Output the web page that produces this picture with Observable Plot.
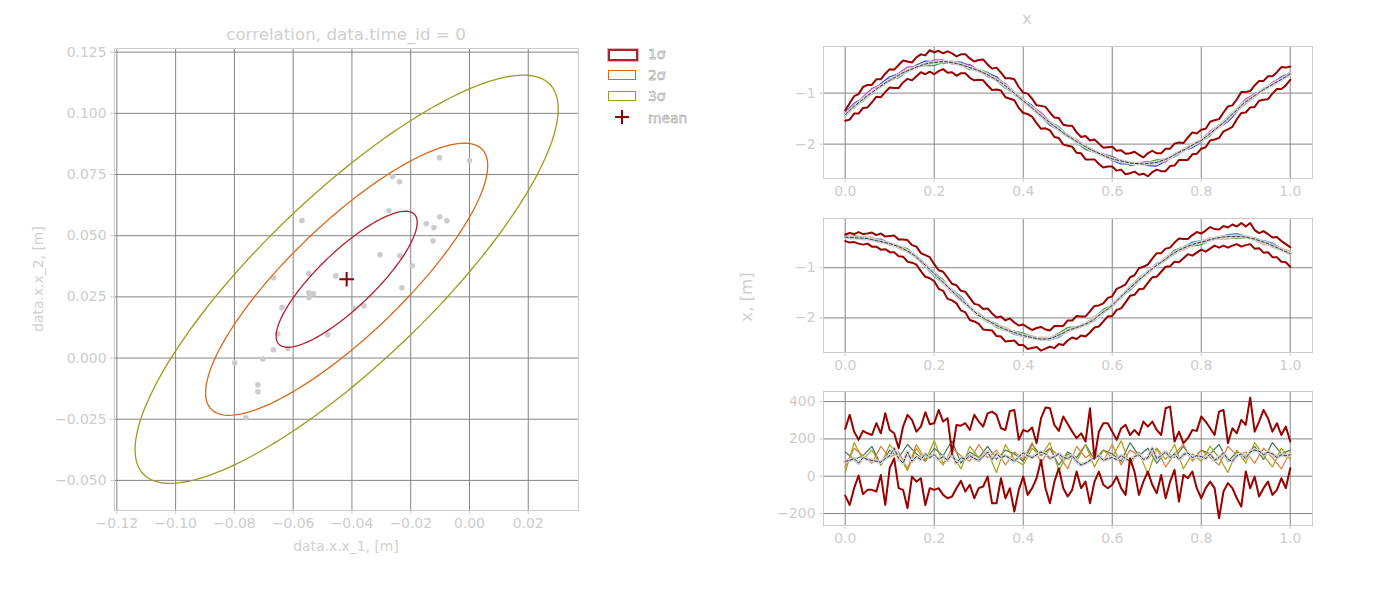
<!DOCTYPE html>
<html><head><meta charset="utf-8">
<script src="https://cdn.jsdelivr.net/npm/d3@7"></script>
<script src="https://cdn.jsdelivr.net/npm/@observablehq/plot@0.6"></script>
<style>
body{margin:0;background:#fff;font-family:"DejaVu Sans",sans-serif;}
#root{position:relative;width:1396px;height:594px;overflow:hidden;background:#fff;}
.lbl{position:absolute;color:#cfcfcf;white-space:nowrap;transform:translate(-50%,-50%);font-family:"DejaVu Sans",sans-serif;}
.leg{position:absolute;white-space:nowrap;font-family:"DejaVu Sans",sans-serif;font-size:13.9px;color:#f4f4f4;-webkit-text-stroke:0.45px #8a8a8a;transform:translateY(-50%);}
.box{position:absolute;width:26px;height:8px;background:#fff;}
</style></head><body><div id="root"></div>
<script>
// ---------- left: correlation scatter ----------
const scatterX = [0.0000,-0.0102,-0.0262,-0.0238,-0.0570,-0.0274,-0.0147,-0.0121,-0.0101,-0.0077,-0.0124,-0.0305,-0.0237,-0.0195,-0.0667,-0.0547,-0.0455,-0.0230,-0.0547,-0.0531,-0.0547,-0.0638,-0.0395,-0.0359,-0.0652,-0.0482,-0.0667,-0.0618,-0.0703,-0.0799,-0.0720,-0.0720,-0.0761];
const scatterY = [0.0807,0.0819,0.0742,0.0720,0.0562,0.0602,0.0549,0.0533,0.0577,0.0561,0.0479,0.0422,0.0418,0.0377,0.0328,0.0345,0.0336,0.0287,0.0267,0.0263,0.0247,0.0206,0.0202,0.0214,0.0099,0.0095,0.0034,0.0039,-0.0004,-0.0019,-0.0109,-0.0138,-0.0244];
const meanXY = [-0.0418, 0.0322];
const covXX = 0.000576, covYY = 0.000773, covXY = 0.000557;
const sigmaLevels = [1, 2, 3];
const sigmaLabels = ["1σ", "2σ", "3σ"];
const sigmaColors = ["#b0202e", "#d8691c", "#9c9c1c"];
const leftXTicks = [-0.12,-0.10,-0.08,-0.06,-0.04,-0.02,0.00,0.02];
const leftYTicks = [-0.050,-0.025,0.000,0.025,0.050,0.075,0.100,0.125];

// ---------- right: time series ----------
const tLabelTicks = [0,0.2,0.4,0.6,0.8,1.0];
const p1Mean = [-1.42,-1.34,-1.26,-1.19,-1.12,-1.05,-0.99,-0.92,-0.86,-0.80,
-0.75,-0.70,-0.65,-0.60,-0.56,-0.53,-0.49,-0.46,-0.43,-0.41,
-0.40,-0.39,-0.38,-0.39,-0.40,-0.42,-0.44,-0.47,-0.50,-0.53,
-0.56,-0.60,-0.64,-0.69,-0.74,-0.79,-0.86,-0.93,-1.00,-1.08,
-1.15,-1.22,-1.29,-1.37,-1.44,-1.51,-1.58,-1.65,-1.71,-1.78,
-1.84,-1.89,-1.95,-2.00,-2.05,-2.10,-2.14,-2.18,-2.22,-2.26,
-2.29,-2.31,-2.33,-2.35,-2.37,-2.38,-2.38,-2.39,-2.38,-2.37,
-2.36,-2.33,-2.30,-2.26,-2.21,-2.16,-2.12,-2.07,-2.02,-1.97,
-1.93,-1.86,-1.79,-1.72,-1.65,-1.58,-1.50,-1.41,-1.33,-1.24,
-1.17,-1.11,-1.05,-0.99,-0.93,-0.88,-0.83,-0.78,-0.73,-0.68,
-0.62];
const p1Up = [0.08,0.14,0.20,0.17,0.24,0.21,0.15,0.19,0.13,0.18,
0.22,0.16,0.20,0.24,0.18,0.13,0.19,0.22,0.17,0.25,
0.20,0.22,0.16,0.21,0.18,0.14,0.20,0.23,0.18,0.15,
0.21,0.26,0.20,0.17,0.24,0.19,0.15,0.22,0.27,0.20,
0.16,0.21,0.18,0.13,0.19,0.24,0.20,0.17,0.22,0.16,
0.20,0.25,0.18,0.14,0.21,0.17,0.23,0.19,0.15,0.20,
0.24,0.18,0.21,0.16,0.19,0.23,0.17,0.13,0.20,0.24,
0.18,0.15,0.21,0.17,0.22,0.19,0.14,0.20,0.25,0.18,
0.21,0.16,0.23,0.19,0.14,0.20,0.24,0.17,0.21,0.26,
0.19,0.15,0.20,0.23,0.17,0.21,0.16,0.19,0.24,0.18,
0.14];
const p1Dn = [0.12,0.18,0.14,0.21,0.17,0.23,0.19,0.15,0.22,0.18,
0.14,0.20,0.25,0.19,0.16,0.22,0.18,0.13,0.20,0.17,
0.23,0.18,0.15,0.21,0.19,0.24,0.17,0.14,0.20,0.22,
0.18,0.15,0.21,0.25,0.19,0.16,0.22,0.18,0.14,0.21,
0.24,0.19,0.17,0.22,0.26,0.18,0.15,0.21,0.17,0.23,
0.19,0.16,0.22,0.18,0.25,0.20,0.16,0.21,0.24,0.18,
0.15,0.21,0.17,0.24,0.20,0.16,0.22,0.19,0.25,0.18,
0.14,0.20,0.23,0.17,0.21,0.15,0.19,0.24,0.18,0.22,
0.16,0.20,0.14,0.19,0.23,0.17,0.21,0.25,0.18,0.15,
0.21,0.17,0.22,0.16,0.20,0.24,0.18,0.14,0.19,0.17,
0.12];
const p1SampleA = [0.04,0.06,0.02,-0.03,0.05,0.07,0.03,-0.02,0.04,0.06,0.02,-0.04,0.01,0.05,0.03,-0.02,0.04,0.06,0.01,-0.03,0.02,0.05,-0.01,-0.05,-0.02,0.03,0.01,-0.04,-0.02,0.02,-0.03,-0.06,-0.02,0.01,-0.04,-0.07,-0.03,0.02,-0.01,-0.05,-0.03,0.01,-0.02,-0.06,-0.04,0.02,0.04,-0.01,0.03,0.05,0.02];
const p1SampleB = [0.02,-0.03,0.05,0.08,0.03,-0.02,0.04,0.07,0.02,-0.01,0.05,0.03,-0.03,0.02,0.06,0.01,-0.04,0.03,0.05,0.02,-0.02,0.03,0.06,0.02,-0.03,-0.01,0.04,0.02,-0.02,0.03,0.05,0.01,-0.03,0.02,0.04,-0.01,-0.05,0.01,0.03,-0.02,0.02,0.05,0.01,-0.03,0.02,0.06,0.03,-0.01,0.04,0.02,-0.02];
const p1SampleC = [-0.03,0.01,-0.04,0.02,-0.02,0.03,-0.05,-0.01,0.02,-0.03,-0.06,-0.02,0.03,-0.01,-0.04,0.02,0.05,-0.02,-0.05,0.01,0.04,-0.01,-0.03,0.02,0.05,0.01,-0.03,-0.06,-0.02,0.02,0.04,-0.02,-0.05,-0.01,0.03,0.05,0.01,-0.04,-0.02,0.03,-0.02,-0.05,0.02,0.04,-0.01,-0.04,-0.02,0.03,-0.03,0.01,0.03];

const p2Mean = [-0.39,-0.40,-0.40,-0.41,-0.41,-0.42,-0.44,-0.46,-0.48,-0.50,
-0.52,-0.55,-0.58,-0.62,-0.67,-0.72,-0.79,-0.87,-0.95,-1.03,
-1.12,-1.21,-1.29,-1.38,-1.46,-1.55,-1.63,-1.71,-1.79,-1.87,
-1.95,-2.00,-2.05,-2.10,-2.15,-2.19,-2.23,-2.26,-2.29,-2.32,
-2.35,-2.37,-2.39,-2.41,-2.42,-2.42,-2.41,-2.38,-2.34,-2.30,
-2.25,-2.22,-2.19,-2.16,-2.12,-2.08,-2.02,-1.95,-1.88,-1.82,
-1.75,-1.66,-1.57,-1.49,-1.40,-1.32,-1.24,-1.17,-1.09,-1.02,
-0.95,-0.89,-0.83,-0.76,-0.70,-0.65,-0.61,-0.57,-0.54,-0.51,
-0.49,-0.47,-0.44,-0.42,-0.40,-0.39,-0.38,-0.38,-0.38,-0.38,
-0.39,-0.41,-0.43,-0.46,-0.49,-0.52,-0.56,-0.60,-0.64,-0.68,
-0.72];
const p2Up = [0.05,0.09,0.07,0.12,0.08,0.10,0.14,0.11,0.16,0.12,
0.15,0.19,0.14,0.18,0.22,0.17,0.21,0.16,0.20,0.24,
0.19,0.16,0.21,0.18,0.14,0.20,0.17,0.23,0.19,0.15,
0.21,0.18,0.24,0.19,0.16,0.22,0.18,0.25,0.20,0.17,
0.22,0.18,0.15,0.21,0.24,0.19,0.16,0.22,0.18,0.14,
0.20,0.17,0.23,0.19,0.15,0.21,0.26,0.20,0.17,0.22,
0.18,0.24,0.19,0.16,0.21,0.17,0.23,0.19,0.15,0.20,
0.24,0.18,0.21,0.16,0.20,0.23,0.18,0.14,0.19,0.22,
0.17,0.21,0.25,0.19,0.16,0.22,0.18,0.24,0.20,0.27,
0.21,0.30,0.18,0.15,0.22,0.19,0.16,0.21,0.17,0.15,
0.13];
const p2Dn = [0.08,0.10,0.09,0.11,0.13,0.10,0.14,0.12,0.16,0.13,
0.17,0.14,0.19,0.16,0.21,0.18,0.15,0.20,0.23,0.18,
0.15,0.21,0.17,0.24,0.19,0.16,0.22,0.18,0.25,0.20,
0.17,0.23,0.19,0.15,0.21,0.18,0.24,0.20,0.16,0.22,
0.19,0.25,0.21,0.17,0.23,0.19,0.16,0.22,0.18,0.24,
0.20,0.17,0.23,0.19,0.25,0.21,0.17,0.22,0.19,0.15,
0.21,0.18,0.24,0.20,0.16,0.22,0.19,0.25,0.21,0.17,
0.23,0.19,0.15,0.21,0.18,0.24,0.20,0.16,0.22,0.19,
0.15,0.21,0.18,0.14,0.20,0.17,0.22,0.18,0.15,0.20,
0.16,0.12,0.19,0.15,0.21,0.17,0.23,0.19,0.24,0.21,
0.26];
const p2SampleA = [0.03,0.01,-0.03,0.02,0.05,0.01,-0.02,0.04,0.02,-0.03,-0.05,-0.02,0.03,0.06,0.02,-0.02,0.01,0.04,-0.01,-0.04,-0.02,0.03,0.01,-0.03,-0.05,-0.01,0.02,-0.02,-0.04,0.01,0.03,-0.02,-0.05,-0.03,0.02,0.04,-0.01,-0.03,0.02,0.05,0.03,-0.02,0.01,0.04,0.06,0.02,-0.01,0.03,0.05,0.02,-0.02];
const p2SampleB = [-0.02,0.04,0.02,-0.01,0.03,-0.03,0.01,0.05,0.02,-0.02,0.03,0.05,0.01,-0.03,-0.01,0.04,0.02,-0.04,-0.02,0.03,0.05,0.02,-0.02,0.01,0.04,0.06,0.02,-0.01,0.03,0.05,0.01,-0.03,0.02,0.04,0.01,-0.02,0.03,0.05,0.02,-0.03,-0.05,-0.01,0.02,-0.02,-0.04,-0.01,0.03,0.01,-0.03,-0.01,0.04];
const p2SampleC = [0.01,-0.02,0.03,0.05,-0.01,0.02,-0.04,-0.02,0.03,0.04,0.01,-0.03,-0.05,0.01,0.03,-0.02,-0.04,0.02,0.05,0.01,-0.03,-0.01,0.04,0.02,-0.02,0.03,-0.03,0.02,0.05,-0.01,-0.04,0.02,0.04,0.01,-0.03,0.01,0.04,0.01,-0.04,-0.02,0.02,0.04,-0.03,-0.05,0.01,0.03,-0.02,-0.05,0.01,0.03,0.05];

const p3Mean = [80,85,95,70,100,90,85,80,75,95,
110,150,95,70,130,80,105,90,120,100,
115,90,105,85,120,70,100,90,110,95,
85,105,130,90,120,100,110,95,80,105,
125,110,100,115,130,120,95,105,120,100,
95,110,80,60,70,85,100,110,85,95,
100,90,110,95,80,105,115,90,100,150,
95,110,130,100,120,90,115,125,100,110,
105,95,120,85,100,125,90,80,110,120,
95,130,140,135,115,130,120,100,115,110,
115];
const p3Upper = [254,329,239,195,243,230,221,284,230,337,
248,230,150,266,329,302,239,266,343,279,
284,355,293,311,123,275,271,284,248,329,
293,266,337,346,329,257,248,350,355,195,
248,239,261,177,311,368,364,275,243,320,
280,239,204,230,186,364,95,239,284,284,
239,195,257,275,221,248,221,293,266,293,
248,221,364,373,186,239,177,204,248,243,
320,293,257,221,346,355,177,257,230,302,
275,421,239,293,355,311,239,284,221,266,
186];
const p3Lower = [-104,-154,-64,4,-96,-73,-73,-82,7,-154,
43,96,-64,-73,-171,-2,-29,-11,-154,-64,
-73,-64,-100,-118,-109,-64,-25,-82,-46,-118,
-64,-55,-2,-145,-145,-11,-118,-64,-189,-73,
-2,-100,-64,-11,87,-64,-145,-29,43,-64,
-109,-73,25,-64,-29,-145,-30,25,-46,-64,
-46,-2,-64,-100,96,25,-100,-29,25,-46,
-91,7,-118,-29,34,-136,7,-11,25,-64,
-118,-64,-29,-64,-225,-82,-37,-64,-118,-163,
25,-64,-2,-109,-64,-29,-100,-73,-11,-64,
43];
const p3SampleA = [130,90,110,160,60,140,100,170,120,80,150,110,190,70,130,100,160,90,140,120,80,170,110,150,60,130,100,170,90,140,120,80,180,110,150,70,130,100,160,90,140,120,170,80,130,110,160,90,180,120,140];
const p3SampleB = [50,150,110,70,160,100,130,40,170,90,120,60,150,110,80,170,100,140,60,130,90,180,70,150,110,40,160,100,130,80,170,60,140,110,90,150,50,120,170,80,140,100,60,160,110,130,70,150,100,40,130];
const p3SampleC = [20,180,90,140,60,170,110,30,150,80,190,70,120,40,160,100,130,20,170,90,60,150,110,180,30,120,80,170,50,140,100,190,60,130,10,150,90,170,40,120,80,160,100,20,140,70,180,110,50,150,90];

// ---------- build ----------
const root = document.getElementById("root");
const gridColor = "#858585";
const baseStyle = {fontFamily: "DejaVu Sans, sans-serif", fontSize: "13.9px", color: "#cccccc", background: "transparent", overflow: "visible"};
function place(el, left, top) {
  el.style.position = "absolute"; el.style.left = left + "px"; el.style.top = top + "px";
  root.appendChild(el);
}
function label(text, x, y, size, rotate) {
  const d = document.createElement("div");
  d.className = "lbl"; d.textContent = text;
  d.style.left = x + "px"; d.style.top = y + "px"; d.style.fontSize = size + "px";
  if (rotate) d.style.transform = "translate(-50%,-50%) rotate(-90deg)";
  root.appendChild(d);
}

// ellipses from covariance (Cholesky)
const l11 = Math.sqrt(covXX), l21 = covXY / l11, l22 = Math.sqrt(covYY - l21 * l21);
const angles = d3.range(0, 361, 2).map(a => a * Math.PI / 180);
const ellipseMarks = sigmaLevels.map((k, j) => Plot.line(
  angles.map(t => ({x: meanXY[0] + k * l11 * Math.cos(t), y: meanXY[1] + k * (l21 * Math.cos(t) + l22 * Math.sin(t))})),
  {x: "x", y: "y", stroke: sigmaColors[j], strokeWidth: 1.3}
));
const points = scatterX.map((x, i) => ({x, y: scatterY[i]}));

const left = Plot.plot({
  width: 600, height: 560, marginLeft: 114, marginRight: 22, marginTop: 48, marginBottom: 50,
  x: {domain: [-0.1208, 0.0371]}, y: {domain: [-0.0623, 0.1265]},
  style: baseStyle,
  marks: [
    Plot.gridX({ticks: leftXTicks, stroke: gridColor, strokeOpacity: 1, strokeWidth: 1}),
    Plot.gridY({ticks: leftYTicks, stroke: gridColor, strokeOpacity: 1, strokeWidth: 1}),
    Plot.frame({stroke: "#cccccc"}),
    Plot.axisX({ticks: leftXTicks, tickFormat: d3.format(".2f"), tickSize: 4, tickPadding: 4, label: null}),
    Plot.axisY({ticks: leftYTicks, tickFormat: d3.format(".3f"), tickSize: 4, tickPadding: 4, label: null}),
    Plot.dot(points, {x: "x", y: "y", r: 2.8, fill: "#cccccc"}),
    ...ellipseMarks,
    Plot.dot([{x: meanXY[0], y: meanXY[1]}], {x: "x", y: "y", symbol: "plus", r: 4.8, stroke: "#8b0000", strokeWidth: 2})
  ]
});
place(left, 0, 0);
label("correlation, data.time_id = 0", 346, 34, 16.7);
label("data.x.x_1, [m]", 346, 546, 13.9);
label("data.x.x_2, [m]", 38, 279, 13.9, true);

// legend
const legendTop = [54, 75, 96];
sigmaLabels.forEach((s, j) => {
  const b = document.createElement("div");
  b.className = "box";
  b.style.left = "608px"; b.style.top = (legendTop[j] - 5) + "px";
  b.style.border = (j === 0 ? "2px" : "1.5px") + " solid " + sigmaColors[j];
  if (j === 0) b.style.boxShadow = "0 0 0 1px rgba(176,32,46,0.35)";
  root.appendChild(b);
  const t = document.createElement("div");
  t.className = "leg"; t.textContent = s;
  t.style.left = "648px"; t.style.top = legendTop[j] + "px";
  root.appendChild(t);
});
{
  const ns = "http://www.w3.org/2000/svg";
  const s = document.createElementNS(ns, "svg");
  s.setAttribute("width", 20); s.setAttribute("height", 20);
  s.innerHTML = '<path d="M3,10H17M10,3V17" stroke="#8b0000" stroke-width="2" fill="none"/>';
  place(s, 612, 107);
  const t = document.createElement("div");
  t.className = "leg"; t.textContent = "mean";
  t.style.left = "648px"; t.style.top = "118px";
  root.appendChild(t);
}

// right panels
function pts(ys) { return ys.map((y, i) => ({t: i / (ys.length - 1), v: y})); }
function offs(mean, o) { return o.map((d, i) => ({t: i / (o.length - 1), v: mean[Math.min(mean.length - 1, Math.round(i * (mean.length - 1) / (o.length - 1)))] + d})); }

function panel(cfg) {
  const lineMarks = [];
  cfg.samples.forEach((s, j) => lineMarks.push(Plot.line(s, {x: "t", y: "v", stroke: cfg.colors[j], strokeWidth: 1.2})));
  lineMarks.push(Plot.line(pts(cfg.mean), {x: "t", y: "v", stroke: "#d0d0d0", strokeWidth: 3.6}));
  lineMarks.push(Plot.line(pts(cfg.mean), {x: "t", y: "v", stroke: "#111", strokeWidth: 0.8, strokeDasharray: "3,2"}));
  lineMarks.push(Plot.line(cfg.upper, {x: "t", y: "v", stroke: "#990000", strokeWidth: 2}));
  lineMarks.push(Plot.line(cfg.lower, {x: "t", y: "v", stroke: "#990000", strokeWidth: 2}));
  const p = Plot.plot({
    width: 640, height: cfg.height, marginLeft: 123, marginRight: 28, marginTop: 6, marginBottom: 30,
    x: {domain: [-0.0488, 1.05]}, y: {domain: cfg.yDomain},
    style: baseStyle,
    marks: [
      Plot.gridX({ticks: tLabelTicks, stroke: gridColor, strokeOpacity: 1}),
      Plot.gridY({ticks: cfg.yTicks, stroke: gridColor, strokeOpacity: 1}),
      Plot.frame({stroke: "#cccccc"}),
      Plot.axisX({ticks: tLabelTicks, tickFormat: d3.format(".1f"), tickSize: 4, tickPadding: 4, label: null}),
      Plot.axisY({ticks: cfg.yTicks, tickFormat: d3.format("d"), tickSize: 4, tickPadding: 4, label: null}),
      ...lineMarks
    ]
  });
  place(p, 700, cfg.top);
}

panel({
  top: 40, height: 168, yDomain: [-2.674, -0.086], yTicks: [-2, -1], mean: p1Mean,
  upper: p1Mean.map((m, i) => ({t: i / (p1Mean.length - 1), v: m + p1Up[i]})),
  lower: p1Mean.map((m, i) => ({t: i / (p1Mean.length - 1), v: m - p1Dn[i]})),
  samples: [offs(p1Mean, p1SampleA), offs(p1Mean, p1SampleB), offs(p1Mean, p1SampleC)],
  colors: ["#2a3fe0", "#d040d0", "#3aa060"]
});
panel({
  top: 212, height: 170, yDomain: [-2.688, -0.02], yTicks: [-2, -1], mean: p2Mean,
  upper: p2Mean.map((m, i) => ({t: i / (p2Mean.length - 1), v: m + p2Up[i]})),
  lower: p2Mean.map((m, i) => ({t: i / (p2Mean.length - 1), v: m - p2Dn[i]})),
  samples: [offs(p2Mean, p2SampleA), offs(p2Mean, p2SampleB), offs(p2Mean, p2SampleC)],
  colors: ["#3a7fd0", "#2ca02c", "#d2b48c"]
});
panel({
  top: 385, height: 170, yDomain: [-264, 454], yTicks: [-200, 0, 200, 400], mean: p3Mean,
  upper: pts(p3Upper), lower: pts(p3Lower),
  samples: [pts(p3SampleA), pts(p3SampleB), pts(p3SampleC)],
  colors: ["#3d7a55", "#e07b39", "#a5a010"]
});
label("x", 1027, 18, 16.7);
label("x, [m]", 746, 297, 16.7, true);
</script></body></html>
